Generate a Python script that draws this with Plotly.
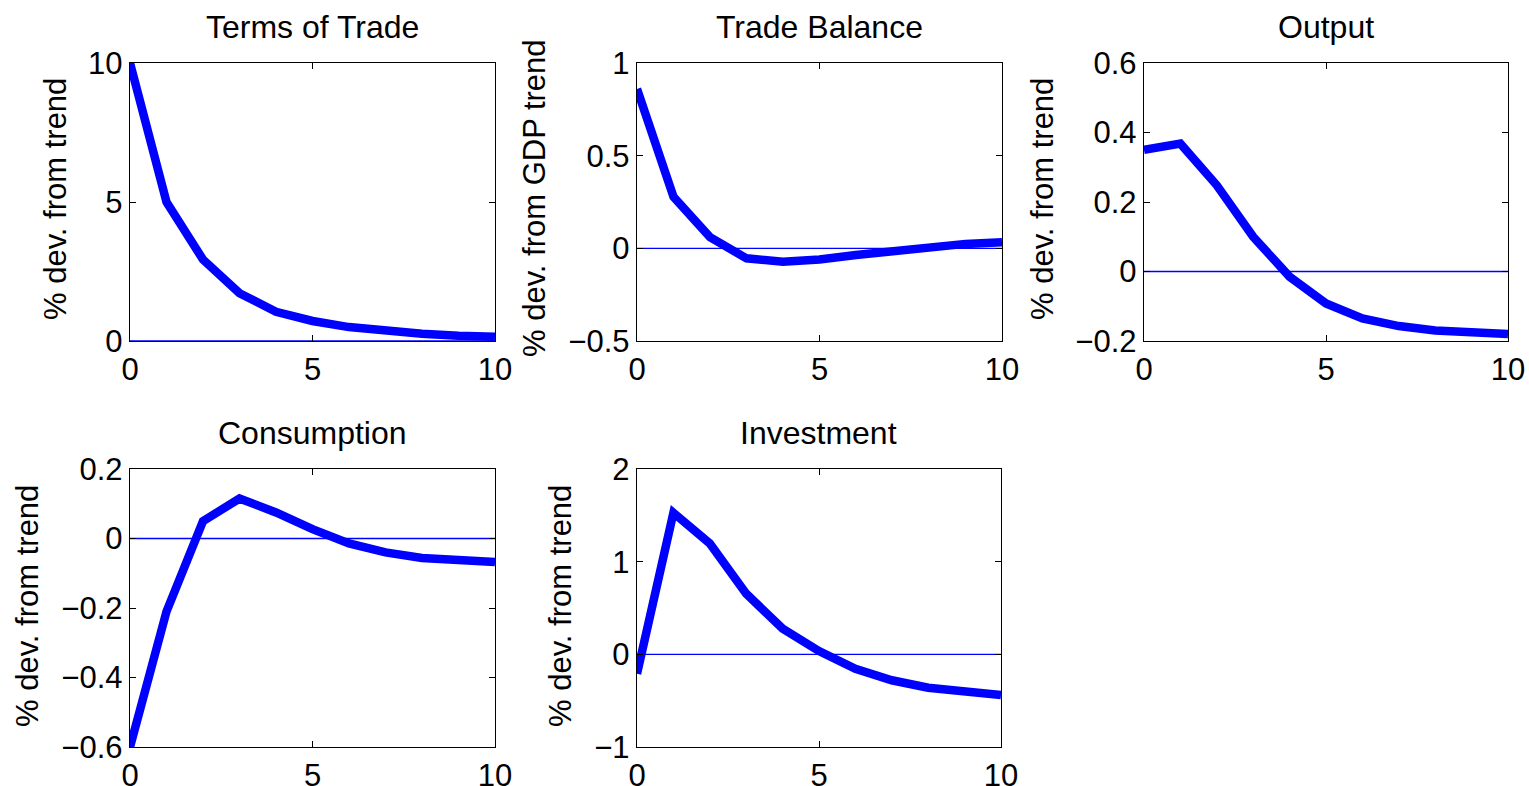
import plotly.graph_objects as go

# the page body margin is removed in post_script, so the figure fills the window
OFF = 0
W, H = 1529, 786

horizon = [0, 1, 2, 3, 4, 5, 6, 7, 8, 9, 10]

terms_of_trade = [10.0, 5.0, 2.93, 1.72, 1.05, 0.72, 0.50, 0.36, 0.26, 0.19, 0.15]
trade_balance = [0.86, 0.278, 0.06, -0.054, -0.072, -0.06, -0.036, -0.013, 0.01, 0.024, 0.033]
output = [0.35, 0.368, 0.248, 0.10, -0.015, -0.092, -0.135, -0.157, -0.17, -0.176, -0.18]
consumption = [-0.6, -0.21, 0.05, 0.115, 0.075, 0.027, -0.014, -0.04, -0.056, -0.064, -0.068]
investment = [-0.21, 1.527, 1.196, 0.655, 0.277, 0.036, -0.155, -0.28, -0.36, -0.41, -0.44]

titles = ["Terms of Trade", "Trade Balance", "Output", "Consumption", "Investment"]
ylabels = ["% dev. from trend", "% dev. from GDP trend", "% dev. from trend",
           "% dev. from trend", "% dev. from trend"]
series = [terms_of_trade, trade_balance, output, consumption, investment]

x_ticks = [0, 5, 10]
y_ranges = [[0, 10], [-0.5, 1], [-0.2, 0.6], [-0.6, 0.2], [-1, 2]]
y_ticks = [[0, 5, 10], [-0.5, 0, 0.5, 1], [-0.2, 0, 0.2, 0.4, 0.6],
           [-0.6, -0.4, -0.2, 0, 0.2], [-1, 0, 1, 2]]
y_ticktext = [["0", "5", "10"], ["\u22120.5", "0", "0.5", "1"],
              ["\u22120.2", "0", "0.2", "0.4", "0.6"],
              ["\u22120.6", "\u22120.4", "\u22120.2", "0", "0.2"],
              ["\u22121", "0", "1", "2"]]

# pixel boxes of each panel in the screenshot: (left, right, top, bottom)
boxes = [(130, 495, 63, 341), (637, 1002, 63, 341), (1144, 1508, 63, 341),
         (130, 495, 469, 747), (637, 1001, 469, 747)]
title_y = [27, 27, 27, 433, 433]
ylabel_pos = [(55, 199), (535, 198), (1042, 199), (27, 606), (560, 606)]

FONT = "Liberation Sans, Arial, Helvetica, sans-serif"
FS_TICK = 31
FS_TITLE = 32
FS_LABEL = 31


def px(v):
    return (v - OFF) / W


def py(v):
    return 1 - (v - OFF) / H


fig = go.Figure()
layout = dict(width=W, height=H, margin=dict(l=0, r=0, t=0, b=0, autoexpand=False),
              template="none",
              paper_bgcolor="white", plot_bgcolor="white", showlegend=False,
              font=dict(family=FONT, size=FS_TICK, color="black"))
annotations = []

for i, (ys, box) in enumerate(zip(series, boxes)):
    n = i + 1
    xa = "x" if n == 1 else f"x{n}"
    ya = "y" if n == 1 else f"y{n}"
    l, r, t, b = box
    fig.add_trace(go.Scatter(x=horizon, y=ys, mode="lines", xaxis=xa, yaxis=ya,
                             line=dict(color="#0000ff", width=8.5), hoverinfo="skip"))
    fig.add_trace(go.Scatter(x=[horizon[0], horizon[-1]], y=[0, 0], mode="lines",
                             xaxis=xa, yaxis=ya,
                             line=dict(color="#0000ff", width=1.3), hoverinfo="skip"))
    axstyle = dict(showline=True, linecolor="black", linewidth=1.3, mirror="ticks",
                   ticks="inside", ticklen=6, tickcolor="black", tickwidth=1,
                   showgrid=False, zeroline=False, automargin=False,
                   ticklabeloverflow="allow",
                   tickfont=dict(family=FONT, size=FS_TICK, color="black"))
    layout["xaxis" if n == 1 else f"xaxis{n}"] = dict(
        domain=[px(l), px(r)], range=[0, 10], tickvals=x_ticks,
        anchor=ya, **axstyle)
    layout["yaxis" if n == 1 else f"yaxis{n}"] = dict(
        domain=[py(b), py(t)], range=y_ranges[i], tickvals=y_ticks[i],
        ticktext=y_ticktext[i], anchor=xa, **axstyle)
    annotations.append(dict(text=titles[i], x=px((l + r) / 2), y=py(title_y[i]),
                            xref="paper", yref="paper", showarrow=False,
                            xanchor="center", yanchor="middle",
                            font=dict(family=FONT, size=FS_TITLE, color="black")))
    annotations.append(dict(text=ylabels[i], x=px(ylabel_pos[i][0]),
                            y=py(ylabel_pos[i][1]), xref="paper", yref="paper",
                            showarrow=False, textangle=-90, xanchor="center",
                            yanchor="middle",
                            font=dict(family=FONT, size=FS_LABEL, color="black")))

layout["annotations"] = annotations
fig.update_layout(**layout)
fig.write_html(
    "out.html",
    config={"displayModeBar": False, "staticPlot": True},
    post_script="document.body.style.margin='0';"
                "document.documentElement.style.overflow='hidden';"
                "document.body.style.overflow='hidden';",
)
